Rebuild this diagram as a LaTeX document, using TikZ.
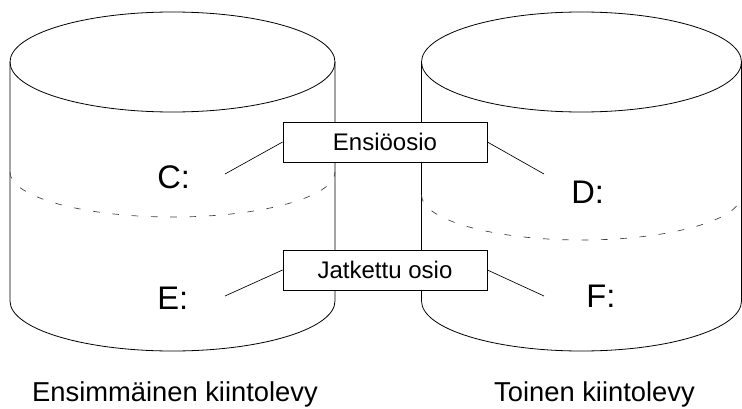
\documentclass[tikz,border=0pt]{standalone}
\usepackage{fontspec}
\setmainfont{Liberation Sans}
\usepackage{tikz}
\usetikzlibrary{calc}
\tikzset{partbox/.style={draw=black, fill=white, line width=0.6pt, minimum width=153pt, minimum height=30pt, inner sep=0pt, font=\fontsize{18}{21}\selectfont},
	drivelabel/.style={anchor=base west, inner sep=0pt, font=\fontsize{24.5}{29}\selectfont},
	caption/.style={anchor=base, inner sep=0pt, font=\fontsize{20.5}{24}\selectfont},
	partline/.style={line width=0.5pt, dash pattern=on 5pt off 9.5pt, black!75}}

\begin{document}
\begin{tikzpicture}[x=0.75pt, y=0.75pt, line width=0.6pt]
	
	\useasboundingbox (0,0) rectangle (742,408);
	
	% first disk
	\draw (172.5,346) ellipse [x radius=162.5, y radius=50];
	\draw (10,346) -- (10,107) arc [start angle=180, end angle=360, x radius=162.5, y radius=50] -- (335,346);
	\draw [partline] (10,236) arc [start angle=180, end angle=360, x radius=162.5, y radius=45];
	
	% second disk
	\draw (581.5,346) ellipse [x radius=160, y radius=50];
	\draw (421.5,346) -- (421.5,107) arc [start angle=180, end angle=360, x radius=160, y radius=50] -- (741.5,346);
	\draw [partline] (421.5,213) arc [start angle=180, end angle=360, x radius=160, y radius=45];
	
	% drive letters
	\node (C) at (157,220) [drivelabel] {C:};
	\node (D) at (571,205) [drivelabel] {D:};
	\node (E) at (157,99) [drivelabel] {E:};
	\node (F) at (586,101) [drivelabel] {F:};
	
	% ends of the pointer lines
	\coordinate (Ctip) at (225,234);
	\coordinate (Dtip) at (544,234);
	\coordinate (Etip) at (225,112);
	\coordinate (Ftip) at (544,112);
	
	% partition boxes
	\node (ens) at (385,266) [partbox] {Ensiöosio};
	\node (jatk) at (385,138) [partbox] {Jatkettu osio};
	
	\draw [line width=0.5pt] (ens.west) -- (Ctip);
	\draw [line width=0.5pt] (ens.east) -- (Dtip);
	\draw [line width=0.5pt] (jatk.west) -- (Etip);
	\draw [line width=0.5pt] (jatk.east) -- (Ftip);
	
	% disk names
	\node (disk1) at (175,7) [caption] {Ensimmäinen kiintolevy};
	\node (disk2) at (594.5,7) [caption] {Toinen kiintolevy};
	
\end{tikzpicture}
\end{document}
